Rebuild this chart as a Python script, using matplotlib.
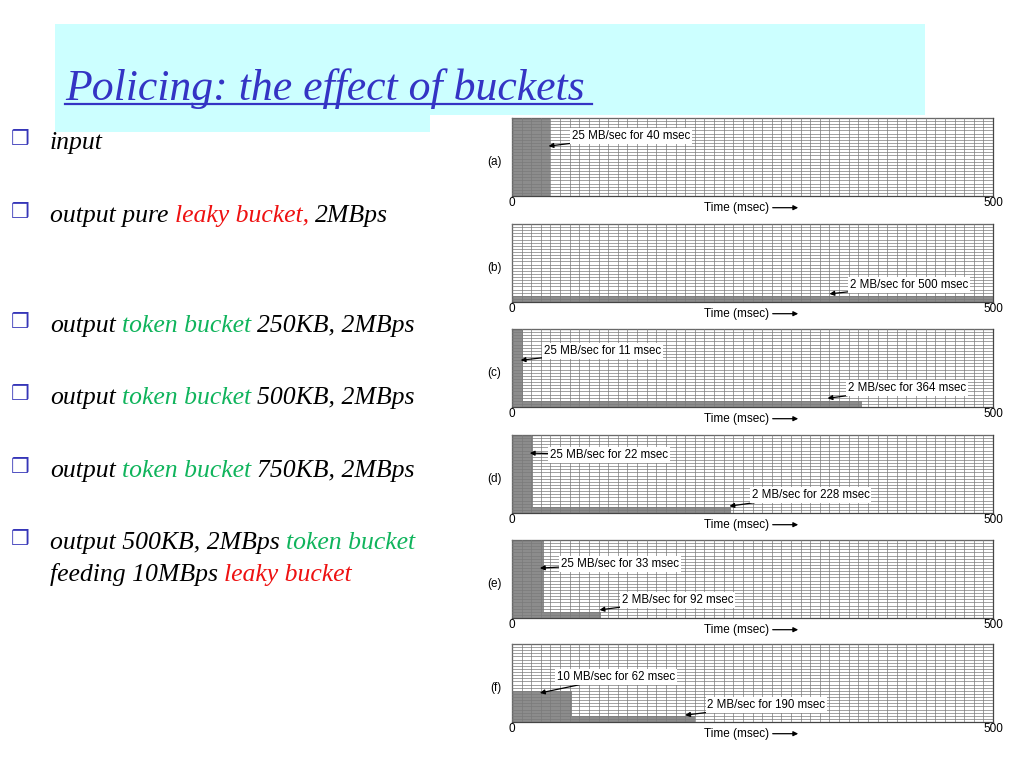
import matplotlib
matplotlib.use('Agg')
import matplotlib.pyplot as plt
import numpy as np
from matplotlib.patches import Rectangle

# slide text
title = 'Policing: the effect of buckets'
bullets = [
    [('input', 'k')],
    [('output pure', 'k'), ('leaky bucket,', 'r'), ('2MBps', 'k')],
    [('output', 'k'), ('token bucket', 'g'), ('250KB, 2MBps', 'k')],
    [('output', 'k'), ('token bucket', 'g'), ('500KB, 2MBps', 'k')],
    [('output', 'k'), ('token bucket', 'g'), ('750KB, 2MBps', 'k')],
    [('output 500KB, 2MBps', 'k'), ('token bucket', 'g')],
    [('feeding 10MBps', 'k'), ('leaky bucket', 'r')],
]
bullet_y = [143, 216, 326, 398, 471, 543, 575]   # text centre, pixels
bullet_mark = [True, True, True, True, True, True, False]

# panel data: rate (MB/sec) and duration (msec) of each output phase, all from t=0
panel_labels = ['(a)', '(b)', '(c)', '(d)', '(e)', '(f)']
seg_rate = [[25], [2], [25, 2], [25, 2], [25, 2], [10, 2]]
seg_len = [[40], [500], [11, 364], [22, 228], [33, 92], [62, 190]]

# where the callouts sit (data coords): arrow tip, text anchor
note_tip = [[(38, 16)], [(330, 2.6)], [(9, 15), (328, 2.8)], [(18.5, 19.2), (226, 2.2)],
            [(29, 16), (91, 2.6)], [(29, 9.3), (180, 2.2)]]
note_txt = [[(62, 19.2)], [(351, 5.4)], [(33, 17.9), (349, 6.1)], [(39.5, 18.6), (249, 5.8)],
            [(51, 17.3), (114, 5.8)], [(47, 14.4), (203, 5.4)]]

panel_top = [118, 224, 329, 435, 540, 644]

colors = {'k': 'black', 'r': '#ee1111', 'g': '#10b45c'}

fig = plt.figure(figsize=(10.24, 7.68), dpi=100)
bg = fig.add_axes([0, 0, 1, 1])
bg.set_xlim(0, 1024)
bg.set_ylim(768, 0)
bg.axis('off')

# title block
bg.add_patch(Rectangle((55, 24), 870, 91, color='#ccffff', lw=0))
bg.add_patch(Rectangle((55, 114), 375, 18, color='#ccffff', lw=0))
title_color = '#3434c4'
bg.text(65, 100, title, fontsize=31.5, fontstyle='italic', family='Liberation Serif',
        color=title_color, va='baseline')
bg.plot([65, 592], [104, 104], color=title_color, lw=1.6)

# bullets
for pieces, y, mark in zip(bullets, bullet_y, bullet_mark):
    if mark:
        bg.text(20, y - 4, '\u2752', fontsize=15, color='#3636b8', ha='center', va='center',
                family='DejaVu Sans')
    prev = None
    for s, c in pieces:
        kw = dict(fontsize=18.5, fontstyle='italic', family='Liberation Serif', color=colors[c])
        if prev is None:
            prev = bg.text(50, y, s, va='center', **kw)
        else:
            prev = bg.annotate(s, xy=(1, 0), xycoords=prev, xytext=(4.5, 0),
                               textcoords='offset points', va='bottom', **kw)

# panels
for i, top in enumerate(panel_top):
    ax = fig.add_axes([512 / 1024, 1 - (top + 78) / 768, 481 / 1024, 78 / 768])
    ax.bar(np.zeros(len(seg_len[i])), seg_rate[i], width=seg_len[i], align='edge',
           color='#8c8c8c', lw=0, zorder=1)
    ax.set_xlim(0, 500)
    ax.set_ylim(0, 25)
    ax.set_xticks([0, 500])
    ax.set_xticks(np.arange(0, 501, 10), minor=True)
    ax.set_yticks([])
    ax.set_yticks(np.arange(0, 26, 1), minor=True)
    ax.set_axisbelow(False)
    ax.grid(which='both', color='#7a7a7a', lw=0.5)
    ax.tick_params(which='both', length=0, labelleft=False, pad=1, labelsize=8.5)
    for lab in ax.get_xticklabels():
        lab.set_family('Liberation Sans')
    for sp in ax.spines.values():
        sp.set_color('#444444')
        sp.set_linewidth(0.9)
    ax.text(-0.022, 0.43, panel_labels[i], transform=ax.transAxes, ha='right', va='center',
            fontsize=8.5, family='Liberation Sans')
    ax.text(0.535, -0.15, 'Time (msec)', transform=ax.transAxes, ha='right', va='center',
            fontsize=8.5, family='Liberation Sans')
    ax.annotate('', xy=(0.595, -0.15), xytext=(0.542, -0.15), xycoords='axes fraction',
                textcoords='axes fraction',
                arrowprops=dict(arrowstyle='-|>', color='k', lw=0.9, mutation_scale=7,
                                shrinkA=0, shrinkB=0))
    for tip, pos, r, l in zip(note_tip[i], note_txt[i], seg_rate[i], seg_len[i]):
        ax.annotate(f'{r} MB/sec for {l} msec', xy=tip, xytext=pos, ha='left', va='center',
                    fontsize=8.3, family='Liberation Sans', zorder=5,
                    bbox=dict(boxstyle='square,pad=0.15', fc='white', ec='none'),
                    arrowprops=dict(arrowstyle='-|>', color='k', lw=0.9, mutation_scale=7,
                                    shrinkA=0, shrinkB=0))

fig.savefig('out.png', dpi=100)
